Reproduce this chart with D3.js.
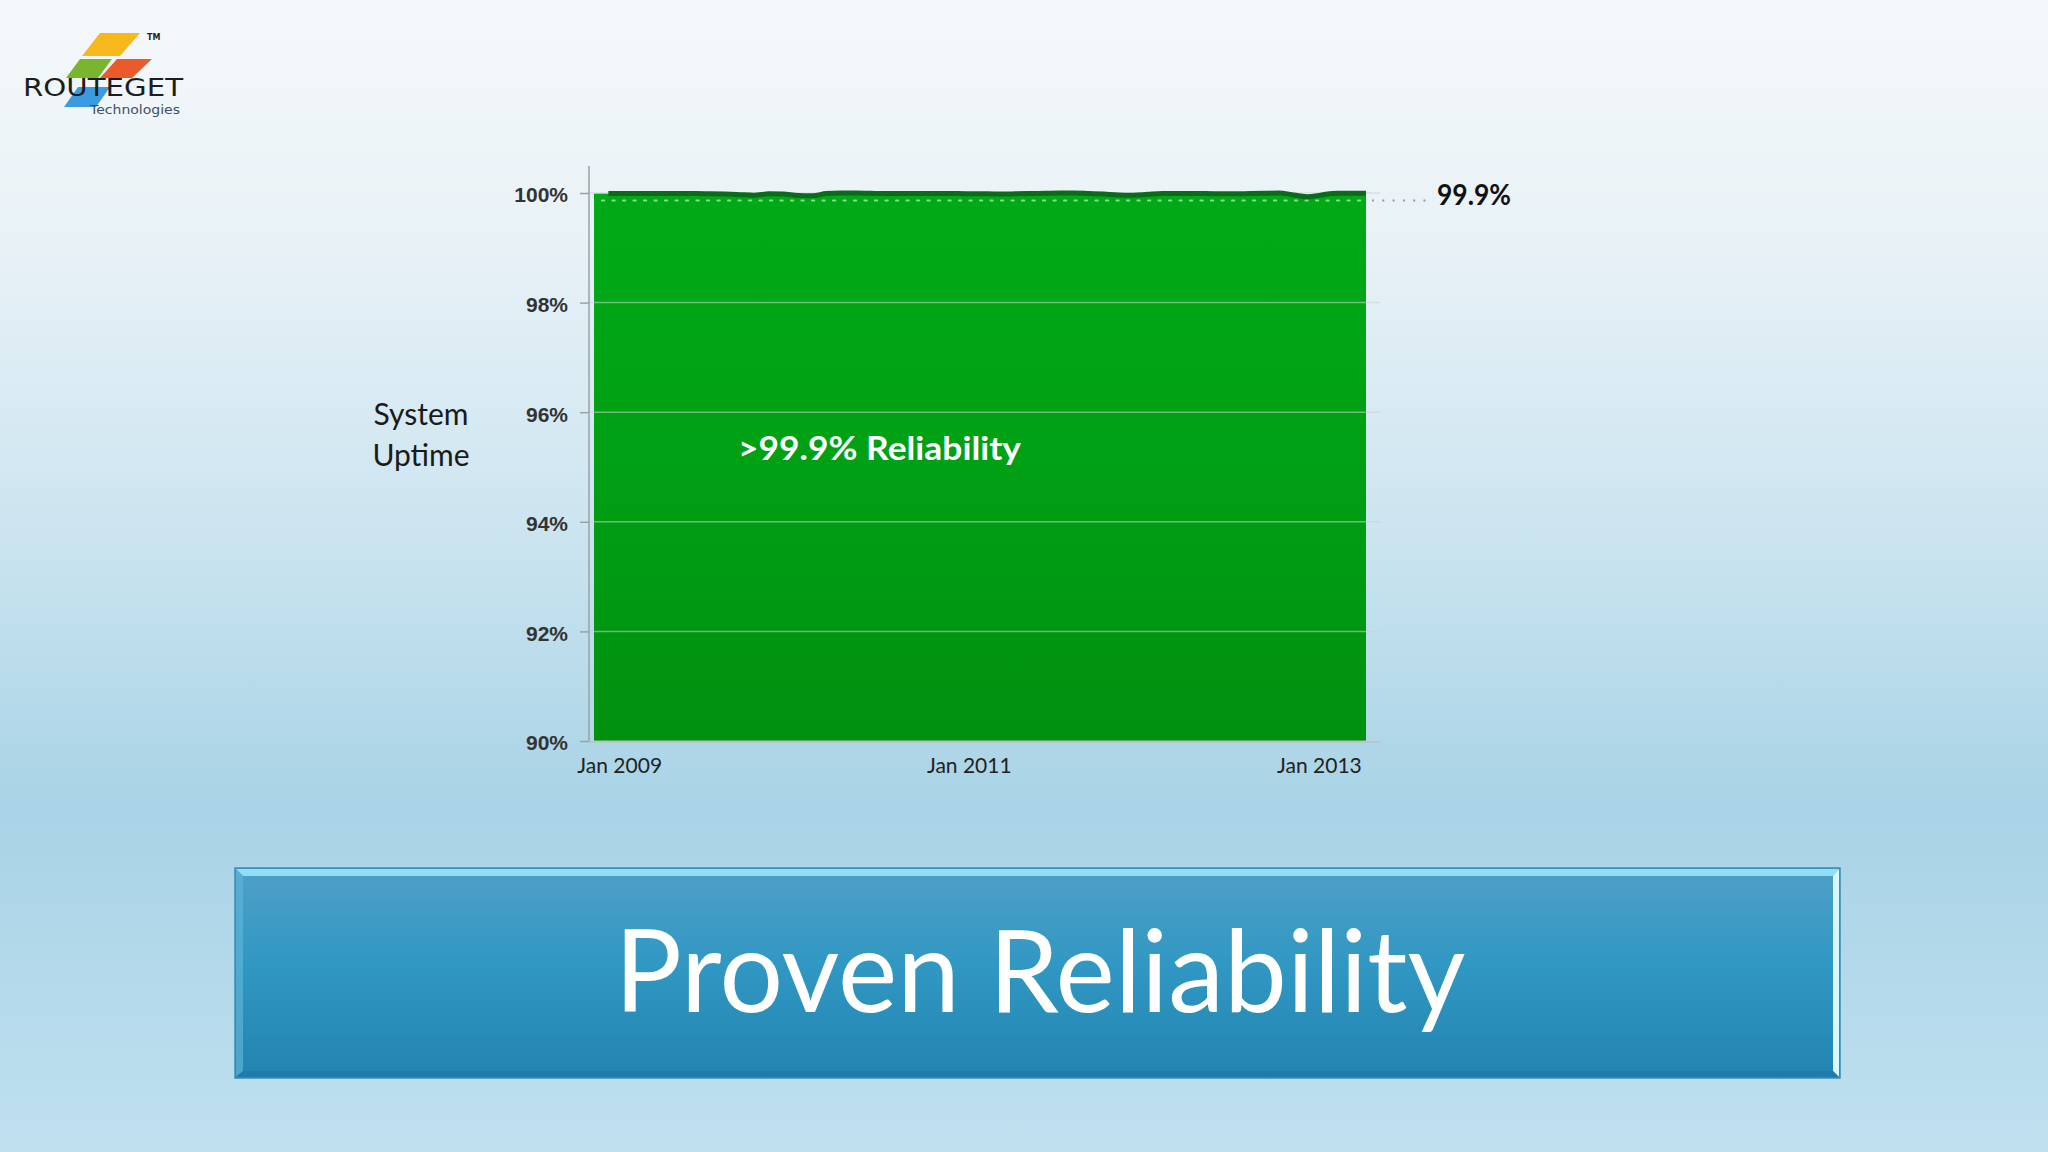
<!DOCTYPE html>
<html>
<head>
<meta charset="utf-8">
<script src="https://cdn.jsdelivr.net/npm/d3@7"></script>
<style>
  html, body { margin: 0; padding: 0; background: #f5f8fa; }
  svg { display: block; }
</style>
</head>
<body>
<svg id="chart" width="2048" height="1152"></svg>
<script>
// ---------------- DATA ----------------
const months = [
  "2008-11","2008-12",
  "2009-01","2009-02","2009-03","2009-04","2009-05","2009-06","2009-07","2009-08","2009-09","2009-10","2009-11","2009-12",
  "2010-01","2010-02","2010-03","2010-04","2010-05","2010-06","2010-07","2010-08","2010-09","2010-10","2010-11","2010-12",
  "2011-01","2011-02","2011-03","2011-04","2011-05","2011-06","2011-07","2011-08","2011-09","2011-10","2011-11","2011-12",
  "2012-01","2012-02","2012-03","2012-04","2012-05","2012-06","2012-07","2012-08","2012-09","2012-10","2012-11","2012-12",
  "2013-01","2013-02","2013-03","2013-04"
];
const uptime = [
  99.99, 99.99,
  99.99, 99.99, 99.99, 99.99, 99.99, 99.99, 99.985, 99.98, 99.97, 99.96, 99.985, 99.98,
  99.955, 99.95, 99.99, 100.0, 100.0, 99.995, 99.99, 99.99, 99.99, 99.99, 99.99, 99.99,
  99.985, 99.985, 99.98, 99.985, 99.99, 99.995, 100.0, 100.0, 99.99, 99.98, 99.965, 99.96,
  99.975, 99.99, 99.99, 99.99, 99.99, 99.985, 99.985, 99.99, 99.995, 100.0, 99.965, 99.93,
  99.97, 99.995, 99.995, 99.995
];
const yTicks = [90, 92, 94, 96, 98, 100];
const xTickLabels = ["2009-01", "2011-01", "2013-01"];
const referenceValue = 99.9;
const referenceLabel = "99.9%";
const areaLabel = ">99.9% Reliability";
const yAxisTitle = ["System", "Uptime"];
const slideTitle = "Proven Reliability";

// ---------------- SETUP ----------------
const parse = d3.timeParse("%Y-%m");
const data = months.map((m, i) => ({ date: parse(m), value: uptime[i] }));

const svg = d3.select("#chart");
const defs = svg.append("defs");

// background gradient
const bg = defs.append("linearGradient").attr("id", "bg").attr("x1", 0).attr("y1", 0).attr("x2", 0).attr("y2", 1);
[[0, "#f5f8fa"], [0.2, "#e9f2f7"], [0.45, "#cde5f0"], [0.70, "#a8d3e6"], [1, "#bfe0ef"]]
  .forEach(([o, c]) => bg.append("stop").attr("offset", o).attr("stop-color", c));
svg.append("rect").attr("width", 2048).attr("height", 1152).attr("fill", "url(#bg)");

// green gradient
const gg = defs.append("linearGradient").attr("id", "gg").attr("x1", 0).attr("y1", 0).attr("x2", 0).attr("y2", 1);
[[0, "#00aa16"], [0.5, "#00a014"], [1, "#009010"]]
  .forEach(([o, c]) => gg.append("stop").attr("offset", o).attr("stop-color", c));

// title box gradient
const tg = defs.append("linearGradient").attr("id", "tg").attr("x1", 0).attr("y1", 0).attr("x2", 0).attr("y2", 1);
[[0, "#509fc8"], [0.45, "#3198c3"], [1, "#2283b0"]]
  .forEach(([o, c]) => tg.append("stop").attr("offset", o).attr("stop-color", c));

// ---------------- SCALES ----------------
const x = d3.scaleTime().domain(d3.extent(data, d => d.date)).range([594, 1366]);
const y = d3.scaleLinear().domain([90, 100]).range([741, 193]);
const axisX = 589, gridRight = 1380;

const g = svg.append("g");

// area
const area = d3.area().x(d => x(d.date)).y0(y(90)).y1(d => y(d.value));
g.append("path").datum(data).attr("d", area).attr("fill", "url(#gg)");

// grid lines
g.append("g").selectAll("line").data(yTicks).join("line")
  .attr("x1", axisX).attr("x2", gridRight)
  .attr("y1", d => y(d)).attr("y2", d => y(d))
  .attr("stroke", "#c9d3d6").attr("stroke-width", 1.5).attr("opacity", 0.55);

// dotted reference line
g.append("line")
  .attr("x1", 602).attr("x2", x.range()[1])
  .attr("y1", y(referenceValue) + 2).attr("y2", y(referenceValue) + 2)
  .attr("stroke", "rgba(225,255,225,0.6)").attr("stroke-width", 2.2)
  .attr("stroke-dasharray", "2.2,8.3").attr("stroke-linecap", "round");
g.append("line")
  .attr("x1", x.range()[1] + 6).attr("x2", 1428)
  .attr("y1", y(referenceValue) + 2).attr("y2", y(referenceValue) + 2)
  .attr("stroke", "#8e9ba2").attr("stroke-width", 2)
  .attr("stroke-dasharray", "2,8.3");

// line
const line = d3.line().x(d => x(d.date)).y(d => y(d.value)).curve(d3.curveMonotoneX);
g.append("path").datum(data.slice(1)).attr("d", line)
  .attr("fill", "none").attr("stroke", "#0b6a1c").attr("stroke-width", 5)
  .attr("stroke-linejoin", "round");

// y axis
const yAxis = d3.axisLeft(y).tickValues(yTicks).tickFormat(d => d + "%").tickSize(9).tickPadding(12);
const ya = svg.append("g").attr("transform", `translate(${axisX},0)`).call(yAxis);
ya.select(".domain").remove();
ya.selectAll(".tick line").attr("stroke", "#9aa2a6").attr("stroke-width", 1.5);
ya.selectAll(".tick text")
  .attr("font-family", "'Liberation Sans', Arial, sans-serif")
  .attr("font-weight", "bold").attr("font-size", 21).attr("fill", "#333")
  .attr("dy", "0.42em");
svg.append("line").attr("x1", axisX).attr("x2", axisX).attr("y1", 166).attr("y2", y(90))
  .attr("stroke", "#9aa2a6").attr("stroke-width", 1.5);
svg.append("line").attr("x1", axisX).attr("x2", gridRight).attr("y1", y(90) + 1).attr("y2", y(90) + 1)
  .attr("stroke", "#b8c6cc").attr("stroke-width", 2);

// x axis
const xAxis = d3.axisBottom(x).tickValues(xTickLabels.map(parse)).tickFormat(d3.timeFormat("%b %Y")).tickSize(0).tickPadding(0);
const xa = svg.append("g").attr("transform", `translate(-4,${y(90)})`).call(xAxis);
xa.select(".domain").remove();
xa.selectAll(".tick text")
  .attr("font-family", "Lato, 'Open Sans', sans-serif")
  .attr("font-size", 21).attr("fill", "#222")
  .attr("dy", null).attr("y", 32);

// reference label
svg.append("text").attr("x", 1437).attr("y", 205)
  .attr("font-family", "Lato, sans-serif").attr("font-weight", "bold")
  .attr("font-size", 28).attr("fill", "#111")
  .attr("textLength", 74).attr("lengthAdjust", "spacingAndGlyphs")
  .text(referenceLabel);

// area label
svg.append("text").attr("x", 738).attr("y", 460)
  .attr("font-family", "Lato, sans-serif").attr("font-weight", "bold")
  .attr("font-size", 32).attr("fill", "#fff")
  .attr("textLength", 283).attr("lengthAdjust", "spacingAndGlyphs")
  .text(areaLabel);

// y axis title
svg.append("g").selectAll("text").data(yAxisTitle).join("text")
  .attr("x", 421).attr("y", (d, i) => 425 + i * 41)
  .attr("text-anchor", "middle")
  .attr("font-family", "Lato, sans-serif").attr("font-size", 30).attr("fill", "#1a1a1a")
  .text(d => d);

// ---------------- TITLE BOX ----------------
const tb = svg.append("g");
tb.append("rect").attr("x", 235).attr("y", 868).attr("width", 1605).attr("height", 210)
  .attr("fill", "url(#tg)").attr("stroke", "#3a8db6").attr("stroke-width", 1.5);
// bevels
tb.append("polygon").attr("points", "236,869 1839,869 1833,876 243,876").attr("fill", "#96e6fb").attr("opacity", 0.9);
tb.append("polygon").attr("points", "236,869 243,876 243,1071 236,1077").attr("fill", "#5bb3d8").attr("opacity", 0.7);
tb.append("polygon").attr("points", "1839,869 1839,1077 1833,1071 1833,876").attr("fill", "#d8f8ff");
tb.append("polygon").attr("points", "236,1077 243,1071 1833,1071 1839,1077").attr("fill", "#1f7ba6").attr("opacity", 0.8);
tb.append("text").attr("x", 1040).attr("y", 1012).attr("text-anchor", "middle")
  .attr("font-family", "Lato, 'Open Sans', sans-serif").attr("font-size", 114).attr("fill", "#fff")
  .attr("textLength", 851).attr("lengthAdjust", "spacingAndGlyphs")
  .text(slideTitle);

// ---------------- LOGO ----------------
const logo = svg.append("g");
logo.append("polygon").attr("points", "100,33 140,33 120,56 82,56").attr("fill", "#f6b81a");
logo.append("polygon").attr("points", "80,59 112,59 98,78 66,78").attr("fill", "#7ab52e");
logo.append("polygon").attr("points", "117,59 152,59 132,78 100,78").attr("fill", "#ea5a2a");
logo.append("polygon").attr("points", "78,87 110,87 96,107 64,107").attr("fill", "#3a9be0");
logo.append("text").attr("x", 23).attr("y", 96)
  .attr("font-family", "'DejaVu Sans', sans-serif").attr("font-size", 24).attr("fill", "#1d1d1d")
  .attr("textLength", 160).attr("lengthAdjust", "spacingAndGlyphs")
  .text("ROUTEGET");
logo.append("text").attr("x", 90).attr("y", 114)
  .attr("font-family", "'DejaVu Sans', sans-serif").attr("font-size", 12).attr("fill", "#3a4f6a")
  .attr("textLength", 90).attr("lengthAdjust", "spacingAndGlyphs")
  .text("Technologies");
logo.append("text").attr("x", 147).attr("y", 40)
  .attr("font-family", "'DejaVu Sans', sans-serif").attr("font-weight", "bold").attr("font-size", 8).attr("fill", "#222")
  .text("TM");
</script>
</body>
</html>
